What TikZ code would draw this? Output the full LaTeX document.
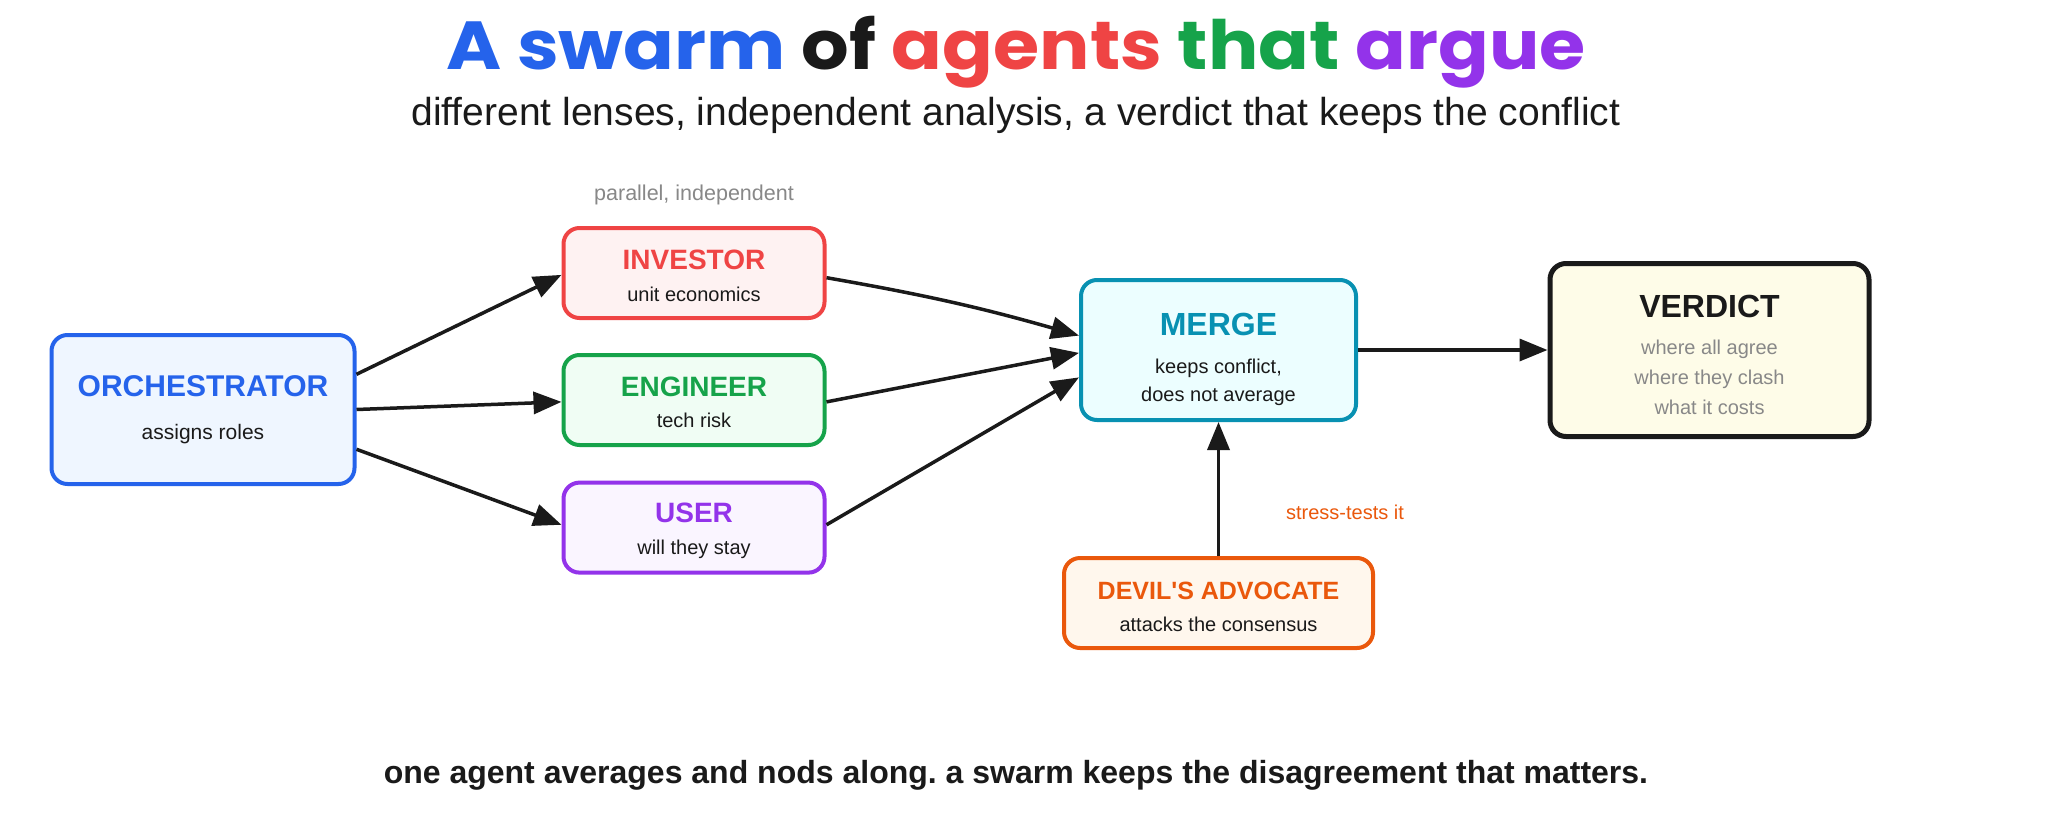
\documentclass[tikz,border=0pt]{standalone}
\usepackage{fontspec}
\setmainfont{Liberation Sans}
\newfontfamily\titlefont{Poppins}
\usetikzlibrary{arrows.meta,calc}
\definecolor{cblue}{HTML}{2563EB}
\definecolor{cbluel}{HTML}{EFF6FF}
\definecolor{cred}{HTML}{EF4444}
\definecolor{credl}{HTML}{FEF2F2}
\definecolor{cgreen}{HTML}{16A34A}
\definecolor{cgreenl}{HTML}{F0FDF4}
\definecolor{cpurple}{HTML}{9333EA}
\definecolor{cpurplel}{HTML}{FAF5FF}
\definecolor{cteal}{HTML}{0891B2}
\definecolor{ctealest}{HTML}{ECFEFF}
\definecolor{corange}{HTML}{EA580C}
\definecolor{corangel}{HTML}{FFF7ED}
\definecolor{ccream}{HTML}{FEFCE8}
\definecolor{ink}{HTML}{1A1A1A}
\definecolor{cgray}{HTML}{888888}
\frenchspacing
\begin{document}
\begin{tikzpicture}[x=1pt,y=-1pt,
  box/.style={draw, line width=4pt, rounded corners=16pt, inner sep=0pt},
  ttl/.style={font=\bfseries\fontsize{28}{28}\selectfont, anchor=base},
  sub/.style={font=\fontsize{20}{20}\selectfont, anchor=base, text=ink},
  gsub/.style={font=\fontsize{20}{20}\selectfont, anchor=base, text=cgray},
  arr/.style={line width=3.5pt, draw=ink, -{Triangle[length=28pt,width=22pt]}}]
\useasboundingbox[fill=white] (0,0) rectangle (2048,819);

% title
\node[anchor=base, font=\titlefont\bfseries\fontsize{68}{68}\selectfont] (title) at (1016,69)
  {\scalebox{1.1}[1]{\textcolor{cblue}{A swarm} \textcolor{ink}{of} \textcolor{cred}{agents} \textcolor{cgreen}{that} \textcolor{cpurple}{argue}}};
\node[anchor=base, font=\fontsize{39}{39}\selectfont, text=ink] (subtitle) at (1016,125)
  {different lenses, independent analysis, a verdict that keeps the conflict};

% boxes
\node[box, draw=cblue, fill=cbluel, minimum width=303pt, minimum height=149pt] (orch) at (203,409.5) {};
\node[box, draw=cred, fill=credl, minimum width=261pt, minimum height=90pt] (inv) at (694,273) {};
\node[box, draw=cgreen, fill=cgreenl, minimum width=261pt, minimum height=90pt] (eng) at (694,400) {};
\node[box, draw=cpurple, fill=cpurplel, minimum width=261pt, minimum height=90pt] (usr) at (694,527.6) {};
\node[box, draw=cteal, fill=ctealest, minimum width=275pt, minimum height=140pt] (merge) at (1218.5,350) {};
\node[box, draw=ink, line width=5pt, fill=ccream, minimum width=319pt, minimum height=173pt] (verd) at (1709.5,350) {};
\node[box, draw=corange, fill=corangel, minimum width=309pt, minimum height=90pt] (devil) at (1218.5,603) {};

% texts
\node[gsub, font=\fontsize{21.5}{21.5}\selectfont] (par) at (694,200) {parallel, independent};
\node[ttl, text=cblue, font=\bfseries\fontsize{30}{30}\selectfont] (orcht) at (203,396) {ORCHESTRATOR};
\node[sub, font=\fontsize{21}{21}\selectfont] (orchs) at (203,439) {assigns roles};
\node[ttl, text=cred] (invt) at (694,269) {INVESTOR};
\node[sub] (invs) at (694,301) {unit economics};
\node[ttl, text=cgreen] (engt) at (694,396.5) {ENGINEER};
\node[sub] (engs) at (694,427.5) {tech risk};
\node[ttl, text=cpurple] (usrt) at (694,522) {USER};
\node[sub] (usrs) at (694,554) {will they stay};
\node[ttl, text=cteal, font=\bfseries\fontsize{32}{32}\selectfont] (merget) at (1218.5,335.5) {MERGE};
\node[sub] (merges1) at (1218.5,373) {keeps conflict,};
\node[sub] (merges2) at (1218.5,401) {does not average};
\node[ttl, text=ink, font=\bfseries\fontsize{32}{32}\selectfont] (verdt) at (1709.5,317) {VERDICT};
\node[gsub] (verds1) at (1709.5,354.5) {where all agree};
\node[gsub] (verds2) at (1709.5,384.5) {where they clash};
\node[gsub] (verds3) at (1709.5,414.5) {what it costs};
\node[ttl, text=corange, font=\bfseries\fontsize{25}{25}\selectfont] (devilt) at (1218.5,599) {DEVIL\textquotesingle S ADVOCATE};
\node[sub] (devils) at (1218.5,631) {attacks the consensus};
\node[sub, text=corange] (stress) at (1345,519) {stress-tests it};
\node[anchor=base, font=\bfseries\fontsize{32}{32}\selectfont, text=ink] (foot) at (1016,783)
  {one agent averages and nods along. a swarm keeps the disagreement that matters.};

% connectors
\draw[arr] ($(orch.north east)!0.27!(orch.south east)$) -- ($(inv.north west)!0.52!(inv.south west)$);
\draw[arr] ($(orch.north east)!0.5!(orch.south east)$) -- ($(eng.north west)!0.52!(eng.south west)$);
\draw[arr] ($(orch.north east)!0.76!(orch.south east)$) -- ($(usr.north west)!0.47!(usr.south west)$);
\draw[arr] ($(inv.north east)!0.55!(inv.south east)$) to[bend left=3] ($(merge.north west)!0.40!(merge.south west)$);
\draw[arr] ($(eng.north east)!0.52!(eng.south east)$) -- ($(merge.north west)!0.52!(merge.south west)$);
\draw[arr] ($(usr.north east)!0.47!(usr.south east)$) -- ($(merge.north west)!0.69!(merge.south west)$);
\draw[arr] (merge.east) -- (verd.west);
\draw[arr] (devil.north) -- (merge.south);
\end{tikzpicture}
\end{document}
